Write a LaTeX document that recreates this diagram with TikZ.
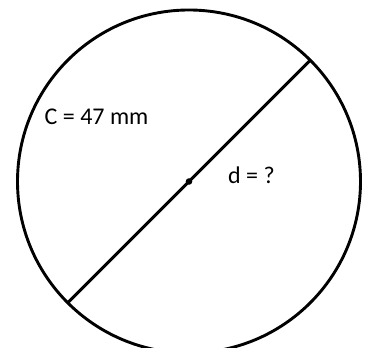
\documentclass[tikz,border=0pt]{standalone}
\usepackage{fontspec}
\setmainfont{Carlito}
\usetikzlibrary{calc}
\begin{document}
\begin{tikzpicture}[x=1pt,y=1pt,
  stroke/.style={line width=2.9pt,black},
  lbl/.style={anchor=base west,inner sep=0pt,font=\fontsize{24}{28}\selectfont}]
\useasboundingbox (0,0) rectangle (365,348);
\clip (0,0) rectangle (365,348);
\fill[white] (0,0) rectangle (365,348);
\coordinate (c) at (189,166.5);
\draw[stroke] (c) circle (171.5);
\coordinate (p1) at ($(c)+(45:171.5)$);
\coordinate (p2) at ($(c)+(225:171.5)$);
\draw[stroke] (p2) -- (p1);
\fill[black] (c) circle (3.3);
\node[lbl] (circum) at (44.5,223) {C = 47 mm};
\node[lbl] (diam) at (228,164.7) {d = ?};
\end{tikzpicture}
\end{document}
